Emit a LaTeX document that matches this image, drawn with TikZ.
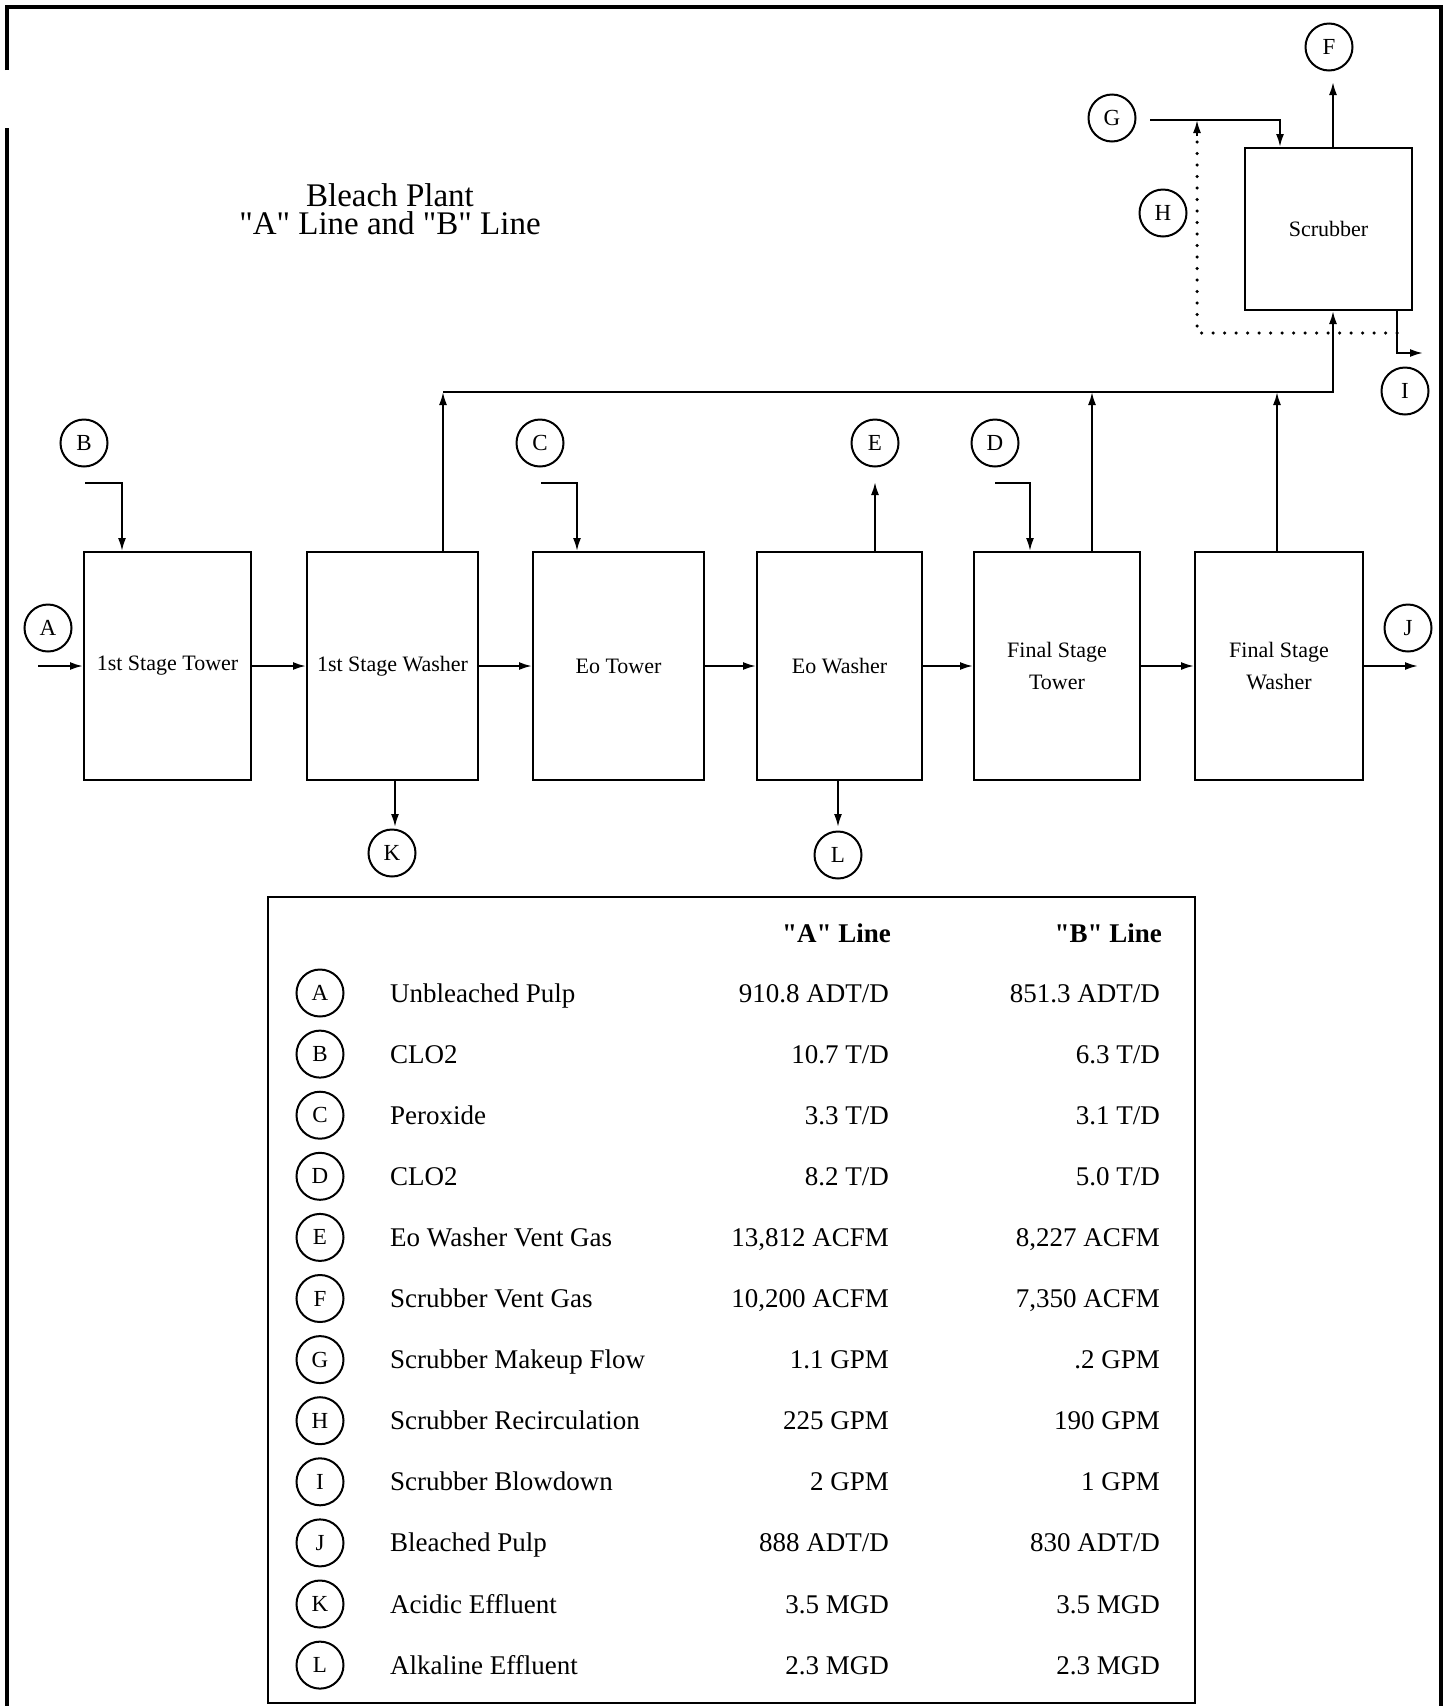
\documentclass[tikz,border=0pt]{standalone}
\usepackage{fontspec}
\setmainfont{Liberation Serif}[Ligatures=TeXOff]
\usetikzlibrary{arrows.meta}
\newcommand{\legendrow}[5]{%
  \node[tag] (k#2) at (320,{993+61.1*#1}) {#2};
  \node[cell] (n#2) at (390,{1002+61.1*#1}) {#3};
  \node[val] (a#2) at (889,{1002+61.1*#1}) {#4};
  \node[val] (b#2) at (1160,{1002+61.1*#1}) {#5};}
\begin{document}
\begin{tikzpicture}[x=1pt,y=-1pt,
  box/.style={draw, line width=2pt, inner sep=0pt, align=center, minimum height=228pt, font=\fontsize{22}{32}\selectfont},
  tag/.style={draw, circle, line width=2pt, minimum size=47pt, inner sep=0pt, font=\fontsize{23}{23}\selectfont},
  flow/.style={line width=2pt, -{Latex[length=13pt,width=8pt]}},
  recirc/.style={line width=3.5pt, line cap=round, dash pattern=on 0pt off 11.5pt},
  frame/.style={line width=3.5pt},
  cell/.style={anchor=base west, inner sep=0pt, font=\fontsize{27}{27}\selectfont},
  val/.style={anchor=base east, inner sep=0pt, font=\fontsize{27}{27}\selectfont},
  head/.style={anchor=base east, inner sep=0pt, font=\fontsize{27}{27}\selectfont\bfseries},
  titletext/.style={anchor=center, inner sep=0pt, align=center, font=\fontsize{33}{28}\selectfont},
]
\useasboundingbox (0,0) rectangle (1453,1706);
% outer frame
\draw[frame] (7,70) -- (7,7) -- (1441,7) -- (1441,1720);
\draw[frame] (7,128) -- (7,1720);

% title
\node[titletext] (title) at (390,209) {Bleach Plant\\"A" Line and "B" Line};

% process units
\node[box, minimum width=167pt] (T1)  at (167.5,666) {1st Stage Tower};
\node[box, minimum width=171pt] (W1)  at (392.5,666) {1st Stage Washer};
\node[box, minimum width=171pt] (EoT) at (618.5,666) {Eo Tower};
\node[box, minimum width=165pt] (EoW) at (839.5,666) {Eo Washer};
\node[box, minimum width=166pt] (FST) at (1057,666) {Final Stage\\Tower};
\node[box, minimum width=168pt] (FSW) at (1279,666) {Final Stage\\Washer};
\node[box, minimum width=167pt, minimum height=162pt] (Scrub) at (1328.5,229) {Scrubber};

% stream tags
\node[tag] (cA) at (48,628) {A};
\node[tag] (cB) at (84,443) {B};
\node[tag] (cC) at (540,443) {C};
\node[tag] (cD) at (995,443) {D};
\node[tag] (cE) at (875,443) {E};
\node[tag] (cF) at (1329,47) {F};
\node[tag] (cG) at (1112,118) {G};
\node[tag] (cH) at (1163,213) {H};
\node[tag] (cI) at (1405,391) {I};
\node[tag] (cJ) at (1408,628) {J};
\node[tag] (cK) at (392,853) {K};
\node[tag] (cL) at (838,855) {L};

% free ends
\coordinate (Ain) at (38,666);
\coordinate (Bs) at (85,483);
\coordinate (Cs) at (541,483);
\coordinate (Ds) at (995,483);
\coordinate (Eend) at (875,482);
\coordinate (Fend) at (1333,82);
\coordinate (Gs) at (1150,120);
\coordinate (Gbend) at (1280,120);
\coordinate (Hjoin) at (1197,120);
\coordinate (Hsrc) at (1397,333);
\coordinate (Hbend) at (1197,333);
\coordinate (Htop) at (1197,134);
\coordinate (Harr) at (1197,136);
\coordinate (Ibend) at (1397,353);
\coordinate (Iend) at (1423,353);
\coordinate (Jend) at (1418,666);
\coordinate (Kend) at (395,827);
\coordinate (Lend) at (838,827);
\coordinate (hdrL) at (443,392);
\coordinate (hdrF) at (1092,392);
\coordinate (hdrW) at (1277,392);
\coordinate (hdrR) at (1333,392);

% main flow
\draw[flow] (Ain) -- (T1.west);
\draw[flow] (T1.east) -- (W1.west);
\draw[flow] (W1.east) -- (EoT.west);
\draw[flow] (EoT.east) -- (EoW.west);
\draw[flow] (EoW.east) -- (FST.west);
\draw[flow] (FST.east) -- (FSW.west);
\draw[flow] (FSW.east) -- (Jend);

% chemical feeds
\draw[flow] (Bs) -| ([xshift=-45.5pt]T1.north);
\draw[flow] (Cs) -| ([xshift=-41.5pt]EoT.north);
\draw[flow] (Ds) -| ([xshift=-27pt]FST.north);

% vents and effluents
\draw[flow] ([xshift=35.5pt]EoW.north) -- (Eend);
\draw[flow] ([xshift=2.5pt]W1.south) -- (Kend);
\draw[flow] ([xshift=-1.5pt]EoW.south) -- (Lend);

% vent header to scrubber
\draw[flow] ([xshift=50.5pt]W1.north) -- (hdrL);
\draw[flow] (hdrL) -- (hdrR) -- ([xshift=4.5pt]Scrub.south);
\draw[flow] ([xshift=35pt]FST.north) -- (hdrF);
\draw[flow] ([xshift=-2pt]FSW.north) -- (hdrW);

% scrubber streams
\draw[flow] ([xshift=4.5pt]Scrub.north) -- (Fend);
\draw[flow] (Gs) -- (Gbend) -- ([xshift=-48.5pt]Scrub.north);
\draw[flow] ([xshift=68.5pt]Scrub.south) -- (Ibend) -- (Iend);
\draw[recirc] (Hsrc) -- (Hbend) -- (Htop);
\draw[flow] (Harr) -- (Hjoin);

% legend table
\node[draw, line width=2.5pt, minimum width=927pt, minimum height=806pt, inner sep=0pt] (legend) at (731.5,1300) {};
\node[head] (hA) at (891,942) {"A" Line};
\node[head] (hB) at (1162,942) {"B" Line};
\legendrow{0}{A}{Unbleached Pulp}{910.8 ADT/D}{851.3 ADT/D}
\legendrow{1}{B}{CLO2}{10.7 T/D}{6.3 T/D}
\legendrow{2}{C}{Peroxide}{3.3 T/D}{3.1 T/D}
\legendrow{3}{D}{CLO2}{8.2 T/D}{5.0 T/D}
\legendrow{4}{E}{Eo Washer Vent Gas}{13,812 ACFM}{8,227 ACFM}
\legendrow{5}{F}{Scrubber Vent Gas}{10,200 ACFM}{7,350 ACFM}
\legendrow{6}{G}{Scrubber Makeup Flow}{1.1 GPM}{.2 GPM}
\legendrow{7}{H}{Scrubber Recirculation}{225 GPM}{190 GPM}
\legendrow{8}{I}{Scrubber Blowdown}{2 GPM}{1 GPM}
\legendrow{9}{J}{Bleached Pulp}{888 ADT/D}{830 ADT/D}
\legendrow{10}{K}{Acidic Effluent}{3.5 MGD}{3.5 MGD}
\legendrow{11}{L}{Alkaline Effluent}{2.3 MGD}{2.3 MGD}
\end{tikzpicture}
\end{document}
